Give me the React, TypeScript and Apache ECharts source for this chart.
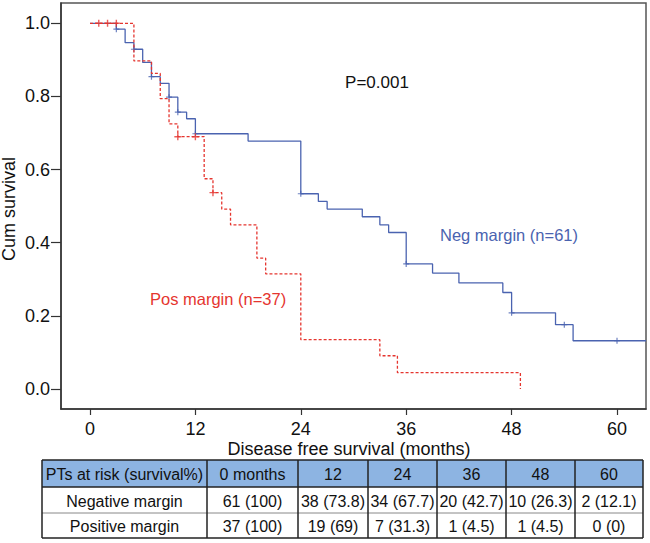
import React, { useEffect, useRef } from "react";
import * as echarts from "echarts";

const xTicks = [0, 12, 24, 36, 48, 60];
const yTicks = [0, 0.2, 0.4, 0.6, 0.8, 1.0];

// Kaplan-Meier steps: [month, survival after event]
const negSteps: [number, number][] = [
  [0, 1.0], [3, 0.984], [4, 0.947], [5, 0.929], [6, 0.893], [7, 0.854], [8, 0.836],
  [9, 0.798], [10, 0.757], [11, 0.739], [12, 0.698], [18, 0.678], [24, 0.534],
  [26, 0.513], [27, 0.492], [31, 0.471], [33, 0.449], [34, 0.428], [36, 0.342],
  [39, 0.317], [42, 0.29], [47, 0.264], [48, 0.2085], [53, 0.176], [55, 0.132], [63.3, 0.132],
];
const negCensors: [number, number][] = [
  [3, 0.984], [5, 0.929], [7, 0.854], [9, 0.798], [10, 0.757], [12, 0.698],
  [24, 0.534], [36, 0.342], [48, 0.2085], [54, 0.176], [60, 0.132],
];
const posSteps: [number, number][] = [
  [0, 1.0], [5, 0.897], [7, 0.863], [8, 0.794], [9, 0.725], [10, 0.69], [13, 0.575],
  [14, 0.537], [15, 0.492], [16, 0.449], [19, 0.358], [20, 0.315], [24, 0.135],
  [33, 0.091], [35, 0.0446], [49, 0.0],
];
const posCensors: [number, number][] = [
  [1, 1.0], [2, 1.0], [3, 1.0], [10, 0.69], [12, 0.69], [14, 0.537],
];

const tableHeader = ["PTs at risk (survival%)", "0 months", "12", "24", "36", "48", "60"];
const negRow = ["Negative margin", "61 (100)", "38 (73.8)", "34 (67.7)", "20 (42.7)", "10 (26.3)", "2 (12.1)"];
const posRow = ["Positive margin", "37 (100)", "19 (69)", "7 (31.3)", "1 (4.5)", "1 (4.5)", "0 (0)"];

const FONT = '"Liberation Sans", Arial, Helvetica, sans-serif';
const BLUE = "#4a63b0";
const RED = "#e5352f";
const PLUS = "path://M4,0h2v4h4v2h-4v4h-2v-4h-4v-2h4z";

function buildTable() {
  const cols = [42, 207, 298, 368, 437, 506, 575, 643];
  const rows = [460, 487, 513, 538];
  const els: any[] = [];
  els.push({
    type: "rect",
    shape: { x: cols[0], y: rows[0], width: cols[7] - cols[0], height: rows[1] - rows[0] },
    style: { fill: "#8db4e2" },
  });
  const allRows = [tableHeader, negRow, posRow];
  allRows.forEach((r, ri) => {
    r.forEach((txt, ci) => {
      els.push({
        type: "text",
        style: {
          text: txt,
          x: (cols[ci] + cols[ci + 1]) / 2,
          y: (rows[ri] + rows[ri + 1]) / 2 + 1,
          align: "center",
          verticalAlign: "middle",
          font: `16px ${FONT}`,
          fill: "#111",
        },
      });
    });
  });
  rows.forEach((y, i) => {
    els.push({
      type: "line",
      shape: { x1: cols[0], y1: y, x2: cols[7], y2: y },
      style: { stroke: i === 2 ? "#888" : "#222", lineWidth: i === 2 ? 1 : 1.5 },
    });
  });
  cols.forEach((x) => {
    els.push({
      type: "line",
      shape: { x1: x, y1: rows[0], x2: x, y2: rows[3] },
      style: { stroke: "#222", lineWidth: 1.5 },
    });
  });
  return els;
}

export default function App() {
  const ref = useRef<HTMLDivElement>(null);
  useEffect(() => {
    document.body.style.margin = "0";
    const chart = echarts.init(ref.current!, null, { renderer: "svg" });
    chart.setOption({
      animation: false,
      backgroundColor: "#fff",
      grid: {
        left: 61, top: 3, right: 4, bottom: 134,
        show: true, borderColor: "#555", borderWidth: 1.5, backgroundColor: "transparent",
      },
      xAxis: {
        type: "value",
        min: -3.3,
        max: 63.3,
        splitLine: { show: false },
        axisLine: { show: true, onZero: false, lineStyle: { color: "#333", width: 1.5 } },
        axisTick: { show: true, length: 6, customValues: xTicks, lineStyle: { color: "#333", width: 1.2 } },
        axisLabel: {
          customValues: xTicks,
          margin: 11,
          fontSize: 18,
          fontFamily: FONT,
          color: "#111",
        },
      },
      yAxis: {
        type: "value",
        min: -0.0546,
        max: 1.0555,
        splitLine: { show: false },
        axisLine: { show: true, onZero: false, lineStyle: { color: "#333", width: 1.5 } },
        axisTick: { show: true, length: 10, customValues: yTicks, lineStyle: { color: "#333", width: 1.2 } },
        axisLabel: {
          customValues: yTicks,
          margin: 11,
          fontSize: 18,
          fontFamily: FONT,
          color: "#111",
          formatter: (v: number) => v.toFixed(1),
        },
      },
      series: [
        {
          name: "Neg margin (n=61)",
          type: "line",
          step: "end",
          data: negSteps,
          showSymbol: false,
          lineStyle: { color: BLUE, width: 1.3 },
          z: 2,
        },
        {
          type: "scatter",
          data: negCensors,
          symbol: PLUS,
          symbolSize: 6,
          itemStyle: { color: BLUE },
          z: 3,
        },
        {
          name: "Pos margin (n=37)",
          type: "line",
          step: "end",
          data: posSteps,
          showSymbol: false,
          lineStyle: { color: RED, width: 1.3, type: [3, 2] },
          z: 4,
        },
        {
          type: "scatter",
          data: posCensors,
          symbol: PLUS,
          symbolSize: 7,
          itemStyle: { color: RED },
          z: 5,
        },
      ],
      graphic: [
        {
          type: "text",
          style: { text: "P=0.001", x: 377, y: 82, align: "center", verticalAlign: "middle", font: `17px ${FONT}`, fill: "#111" },
        },
        {
          type: "text",
          style: { text: "Neg margin (n=61)", x: 440, y: 235, align: "left", verticalAlign: "middle", font: `16.5px ${FONT}`, fill: BLUE },
        },
        {
          type: "text",
          style: { text: "Pos margin (n=37)", x: 150, y: 299, align: "left", verticalAlign: "middle", font: `16.5px ${FONT}`, fill: RED },
        },
        {
          type: "text",
          style: { text: "Disease free survival (months)", x: 349, y: 449, align: "center", verticalAlign: "middle", font: `18px ${FONT}`, fill: "#111" },
        },
        {
          type: "text",
          x: 9,
          y: 209,
          rotation: Math.PI / 2,
          style: { text: "Cum survival", x: 0, y: 0, align: "center", verticalAlign: "middle", font: `18px ${FONT}`, fill: "#111" },
        },
        ...buildTable(),
      ],
    });
    return () => chart.dispose();
  }, []);
  return <div ref={ref} style={{ position: "absolute", left: 0, top: 0, width: 650, height: 543 }} />;
}
